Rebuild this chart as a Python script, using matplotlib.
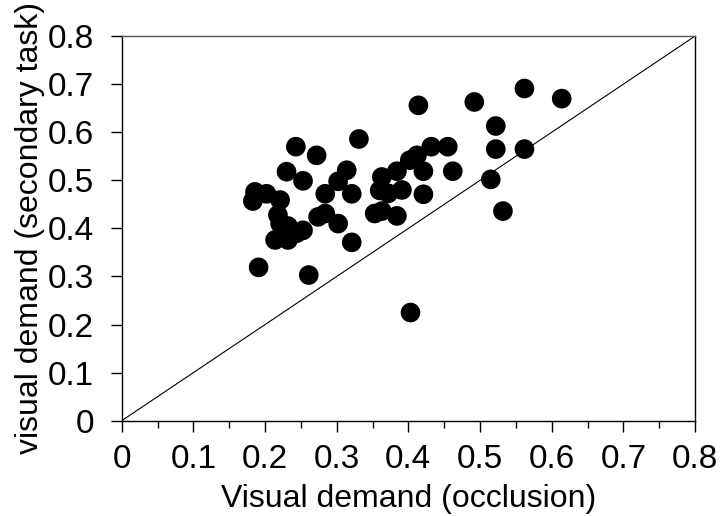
import matplotlib
matplotlib.use('Agg')
import matplotlib.pyplot as plt
from matplotlib.ticker import MultipleLocator

plt.rcParams['font.family'] = ['Liberation Sans', 'DejaVu Sans']

# visual demand measured with occlusion (x) vs. secondary task (y)
occlusion = [0.414, 0.492, 0.562, 0.614, 0.522, 0.522, 0.562, 0.515, 0.532,
             0.432, 0.455, 0.412, 0.402, 0.421, 0.462, 0.384, 0.391, 0.421,
             0.384, 0.363, 0.372, 0.363, 0.331, 0.243, 0.272, 0.230, 0.253,
             0.314, 0.302, 0.284, 0.321, 0.360, 0.186, 0.183, 0.202, 0.221,
             0.218, 0.221, 0.232, 0.253, 0.274, 0.284, 0.302, 0.214, 0.232,
             0.244, 0.353, 0.321, 0.191, 0.261, 0.403]
secondary = [0.656, 0.663, 0.691, 0.670, 0.613, 0.565, 0.565, 0.502, 0.436,
             0.570, 0.570, 0.552, 0.542, 0.519, 0.519, 0.519, 0.480, 0.471,
             0.426, 0.507, 0.473, 0.436, 0.586, 0.570, 0.552, 0.518, 0.499,
             0.521, 0.498, 0.472, 0.472, 0.479, 0.476, 0.457, 0.472, 0.459,
             0.428, 0.410, 0.405, 0.396, 0.424, 0.431, 0.410, 0.376, 0.376,
             0.390, 0.431, 0.371, 0.319, 0.303, 0.225]

fig = plt.figure(figsize=(7.22, 5.16), dpi=100)
ax = fig.add_axes([0.1686, 0.1847, 0.7940, 0.7453])

ax.plot([0, 0.8], [0, 0.8], color='black', lw=0.8)
ax.scatter(occlusion, secondary, s=200, color='black', edgecolors='none', zorder=3)

ax.set_xlim(0, 0.8)
ax.set_ylim(0, 0.8)
ax.xaxis.set_major_locator(MultipleLocator(0.1))
ax.xaxis.set_minor_locator(MultipleLocator(0.05))
ax.yaxis.set_major_locator(MultipleLocator(0.1))
ax.xaxis.set_major_formatter(plt.FuncFormatter(lambda v, p: f'{v:g}' if v else '0'))
ax.yaxis.set_major_formatter(plt.FuncFormatter(lambda v, p: f'{v:g}' if v else '0'))

ax.tick_params(which='major', direction='out', length=8, width=1, labelsize=24)
ax.tick_params(axis='x', which='major', pad=9)
ax.tick_params(axis='y', which='major', pad=12)
ax.tick_params(which='minor', direction='out', length=5, width=1)
for sp in ax.spines.values():
    sp.set_linewidth(1)
ax.spines['top'].set_color('#555555')

ax.set_xlabel('Visual demand (occlusion)', fontsize=23, labelpad=6)
ax.set_ylabel('visual demand (secondary task)', fontsize=23, labelpad=2)

fig.savefig('out.png', dpi=100)
